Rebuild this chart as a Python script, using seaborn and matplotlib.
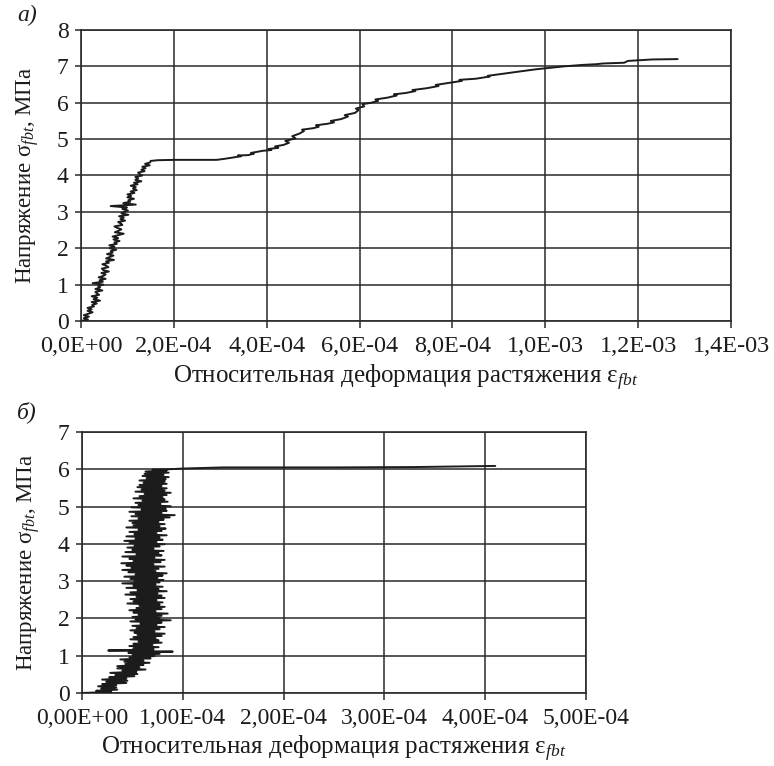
import numpy as np
import pandas as pd
import matplotlib
matplotlib.use("Agg")
import matplotlib.pyplot as plt
import seaborn as sns

# ---- panel a: tensile stress-strain curve (strain in 1e-6 units, stress in MPa)
strain_a = [
    0, 15, 6, 17, 6, 16, 25, 14, 23, 14, 28, 24, 34, 23, 41, 27, 35, 23, 39, 34,
    31, 46, 31, 41, 37, 48, 25, 47, 40, 53, 38, 48, 53, 44, 60, 48, 45, 59, 54, 46,
    60, 54, 71, 54, 62, 70, 56, 68, 64, 76, 62, 72, 61, 77, 72, 83, 70, 80, 68, 80,
    92, 73, 81, 87, 78, 72, 89, 86, 80, 95, 85, 92, 82, 102, 87, 93, 101, 89, 99, 64,
    118, 91, 106, 102, 114, 100, 108, 100, 115, 107, 120, 112, 118, 107, 122, 114, 130, 117, 123, 117,
    132, 126, 123, 137, 130, 139, 132, 148, 138, 149, 150, 165, 200, 260, 292,
    310, 330, 345, 338, 360, 372, 366, 392, 410, 404, 425, 418, 436, 448, 440, 462, 455,
    470, 480, 476, 500, 512, 506, 530, 545, 538, 560, 575, 568, 590, 598, 592, 610, 606, 625, 640, 634,
    660, 680, 674, 700, 720, 714, 745, 770, 764, 795, 820, 815, 850, 880, 876, 910, 945, 980, 1010, 1040,
    1080, 1110, 1125, 1170, 1178, 1230, 1285,
]
stress_a = [
    0.00, 0.04, 0.08, 0.12, 0.16, 0.20, 0.24, 0.28, 0.32, 0.36, 0.40, 0.44, 0.48, 0.52, 0.56, 0.60, 0.64, 0.68, 0.72, 0.76,
    0.80, 0.84, 0.88, 0.92, 0.96, 1.00, 1.04, 1.08, 1.12, 1.16, 1.20, 1.24, 1.28, 1.32, 1.36, 1.40, 1.44, 1.48, 1.52, 1.56,
    1.60, 1.64, 1.68, 1.72, 1.76, 1.80, 1.84, 1.88, 1.92, 1.96, 2.00, 2.04, 2.08, 2.12, 2.16, 2.20, 2.24, 2.28, 2.32, 2.36,
    2.40, 2.44, 2.48, 2.52, 2.56, 2.60, 2.64, 2.68, 2.72, 2.76, 2.80, 2.84, 2.88, 2.92, 2.96, 3.00, 3.04, 3.08, 3.12, 3.16,
    3.20, 3.24, 3.28, 3.32, 3.36, 3.40, 3.44, 3.48, 3.52, 3.56, 3.60, 3.64, 3.68, 3.72, 3.76, 3.80, 3.84, 3.88, 3.92, 3.96,
    4.00, 4.04, 4.08, 4.12, 4.16, 4.20, 4.24, 4.28, 4.32, 4.36, 4.40, 4.42, 4.43, 4.43, 4.43,
    4.46, 4.50, 4.53, 4.55, 4.56, 4.60, 4.62, 4.68, 4.70, 4.73, 4.76, 4.80, 4.84, 4.90, 4.95, 5.02, 5.08,
    5.15, 5.22, 5.26, 5.30, 5.34, 5.38, 5.42, 5.46, 5.50, 5.55, 5.62, 5.66, 5.72, 5.80, 5.84, 5.90, 5.96, 6.00, 6.05, 6.09,
    6.14, 6.20, 6.23, 6.27, 6.32, 6.35, 6.40, 6.46, 6.49, 6.55, 6.60, 6.63, 6.66, 6.72, 6.74, 6.80, 6.86, 6.92, 6.96, 7.00,
    7.04, 7.06, 7.08, 7.10, 7.15, 7.19, 7.20,
]

# ---- panel b: tensile stress-strain curve (strain in 1e-6 units, stress in MPa)
strain_b = [
    0, 29, 14, 35, 19, 34, 16, 34, 20, 44, 24, 45, 20, 44, 27, 52, 33,
    55, 28, 54, 40, 63, 35, 57, 35, 61, 43, 67, 42, 61, 38, 68, 47, 72,
    50, 77, 46, 90, 26, 71, 51, 76, 47, 70, 51, 79, 56, 76, 48, 73, 51,
    79, 55, 82, 52, 72, 48, 77, 54, 82, 50, 74, 58, 79, 48, 88, 53, 77,
    50, 79, 56, 85, 51, 73, 47, 79, 54, 82, 57, 77, 45, 80, 51, 74, 48,
    82, 54, 79, 43, 75, 48, 84, 55, 76, 44, 80, 51, 73, 40, 77, 52, 81,
    48, 75, 42, 80, 53, 84, 46, 73, 40, 76, 49, 82, 44, 71, 39, 78, 51,
    82, 47, 72, 40, 79, 54, 76, 43, 81, 50, 71, 45, 77, 52, 82, 47, 74,
    42, 80, 53, 77, 44, 84, 52, 74, 47, 79, 56, 83, 44, 77, 51, 82, 50,
    76, 47, 81, 56, 87, 49, 92, 53, 79, 47, 84, 59, 83, 49, 88, 56, 78,
    53, 85, 60, 82, 51, 80, 57, 84, 62, 88, 53, 82, 59, 84, 55, 79, 57,
    84, 61, 82, 57, 83, 64, 86, 60, 81, 62, 86, 63, 84,
    70, 86, 100, 140, 250, 330, 380, 410,
]
stress_b = [
    0.00, 0.03, 0.06, 0.09, 0.12, 0.15, 0.18, 0.21, 0.24, 0.27, 0.30, 0.33, 0.36, 0.39, 0.42, 0.45, 0.48,
    0.51, 0.54, 0.57, 0.60, 0.63, 0.66, 0.69, 0.72, 0.75, 0.78, 0.81, 0.84, 0.87, 0.90, 0.93, 0.96, 0.99,
    1.02, 1.05, 1.08, 1.11, 1.14, 1.17, 1.20, 1.23, 1.26, 1.29, 1.32, 1.35, 1.38, 1.41, 1.44, 1.47, 1.50,
    1.53, 1.56, 1.59, 1.62, 1.65, 1.68, 1.71, 1.74, 1.77, 1.80, 1.83, 1.86, 1.89, 1.92, 1.95, 1.98, 2.01,
    2.04, 2.07, 2.10, 2.13, 2.16, 2.19, 2.22, 2.25, 2.28, 2.31, 2.34, 2.37, 2.40, 2.43, 2.46, 2.49, 2.52,
    2.55, 2.58, 2.61, 2.64, 2.67, 2.70, 2.73, 2.76, 2.79, 2.82, 2.85, 2.88, 2.91, 2.94, 2.97, 3.00, 3.03,
    3.06, 3.09, 3.12, 3.15, 3.18, 3.21, 3.24, 3.27, 3.30, 3.33, 3.36, 3.39, 3.42, 3.45, 3.48, 3.51, 3.54,
    3.57, 3.60, 3.63, 3.66, 3.69, 3.72, 3.75, 3.78, 3.81, 3.84, 3.87, 3.90, 3.93, 3.96, 3.99, 4.02, 4.05,
    4.08, 4.11, 4.14, 4.17, 4.20, 4.23, 4.26, 4.29, 4.32, 4.35, 4.38, 4.41, 4.44, 4.47, 4.50, 4.53, 4.56,
    4.59, 4.62, 4.65, 4.68, 4.71, 4.74, 4.77, 4.80, 4.83, 4.86, 4.89, 4.92, 4.95, 4.98, 5.01, 5.04, 5.07,
    5.10, 5.13, 5.16, 5.19, 5.22, 5.25, 5.28, 5.31, 5.34, 5.37, 5.40, 5.43, 5.46, 5.49, 5.52, 5.55, 5.58,
    5.61, 5.64, 5.67, 5.70, 5.73, 5.76, 5.79, 5.82, 5.85, 5.88, 5.91, 5.94, 5.97,
    5.99, 6.00, 6.02, 6.05, 6.05, 6.06, 6.08, 6.09,
]

# ---- axis ticks and labels
xticks_a = [0.0, 2e-4, 4e-4, 6e-4, 8e-4, 1e-3, 1.2e-3, 1.4e-3]
xticklabels_a = ["0,0E+00", "2,0E-04", "4,0E-04", "6,0E-04", "8,0E-04", "1,0E-03", "1,2E-03", "1,4E-03"]
yticks_a = [0, 1, 2, 3, 4, 5, 6, 7, 8]

xticks_b = [0.0, 1e-4, 2e-4, 3e-4, 4e-4, 5e-4]
xticklabels_b = ["0,00E+00", "1,00E-04", "2,00E-04", "3,00E-04", "4,00E-04", "5,00E-04"]
yticks_b = [0, 1, 2, 3, 4, 5, 6, 7]

ylabel_text = "Напряжение $\\mathrm{σ}_{fbt}$, МПа"
xlabel_text = "Относительная деформация растяжения $\\mathrm{ε}_{fbt}$"

sns.set_style("white")
plt.rcParams["font.family"] = ["Liberation Serif", "DejaVu Serif"]
plt.rcParams["mathtext.fontset"] = "custom"
plt.rcParams["mathtext.rm"] = "Liberation Serif"
plt.rcParams["mathtext.it"] = "Liberation Serif:italic"

INK = "#1c1c1c"
GRID = "#2a2a2a"

fig = plt.figure(figsize=(7.74, 7.66), dpi=100)
ax_a = fig.add_axes([81 / 774, 1 - 321 / 766, 650 / 774, 291 / 766])
ax_b = fig.add_axes([82 / 774, 1 - 693 / 766, 504 / 774, 261 / 766])

df_a = pd.DataFrame({"strain": np.array(strain_a) * 1e-6, "stress": stress_a})
df_b = pd.DataFrame({"strain": np.array(strain_b) * 1e-6, "stress": stress_b})

for ax, df, xt, xtl, yt, xmax, ymax, xtsize, xpad in [
    (ax_a, df_a, xticks_a, xticklabels_a, yticks_a, 1.4e-3, 8, 17.5, 4),
    (ax_b, df_b, xticks_b, xticklabels_b, yticks_b, 5e-4, 7, 17, 3),
]:
    sns.lineplot(data=df, x="strain", y="stress", sort=False, estimator=None,
                 color=INK, linewidth=1.4, ax=ax, zorder=3)
    ax.set_xlim(0, xmax)
    ax.set_ylim(0, ymax)
    ax.set_xticks(xt)
    ax.set_xticklabels(xtl)
    ax.set_yticks(yt)
    ax.grid(True, color=GRID, linewidth=1.1)
    ax.set_axisbelow(True)
    for sp in ax.spines.values():
        sp.set_visible(True)
        sp.set_color(GRID)
        sp.set_linewidth(1.2)
    ax.tick_params(axis="x", direction="out", length=5, width=1.1, color=GRID,
                   labelsize=xtsize, pad=6, bottom=True)
    ax.tick_params(axis="y", direction="out", length=4, width=1.1, color=GRID,
                   labelsize=17, pad=5, left=True)
    ax.set_xlabel(xlabel_text, fontsize=18, labelpad=xpad, color=INK)
    ax.set_ylabel(ylabel_text, fontsize=16.5, labelpad=11, color=INK)
    for lbl in ax.get_xticklabels() + ax.get_yticklabels():
        lbl.set_color(INK)

fig.text(27 / 774, 1 - 15 / 766, "а)", fontsize=17, style="italic", ha="center", va="center", color=INK)
fig.text(27 / 774, 1 - 412 / 766, "б)", fontsize=17, style="italic", ha="center", va="center", color=INK)

fig.savefig("out.png", dpi=100, facecolor="white")
